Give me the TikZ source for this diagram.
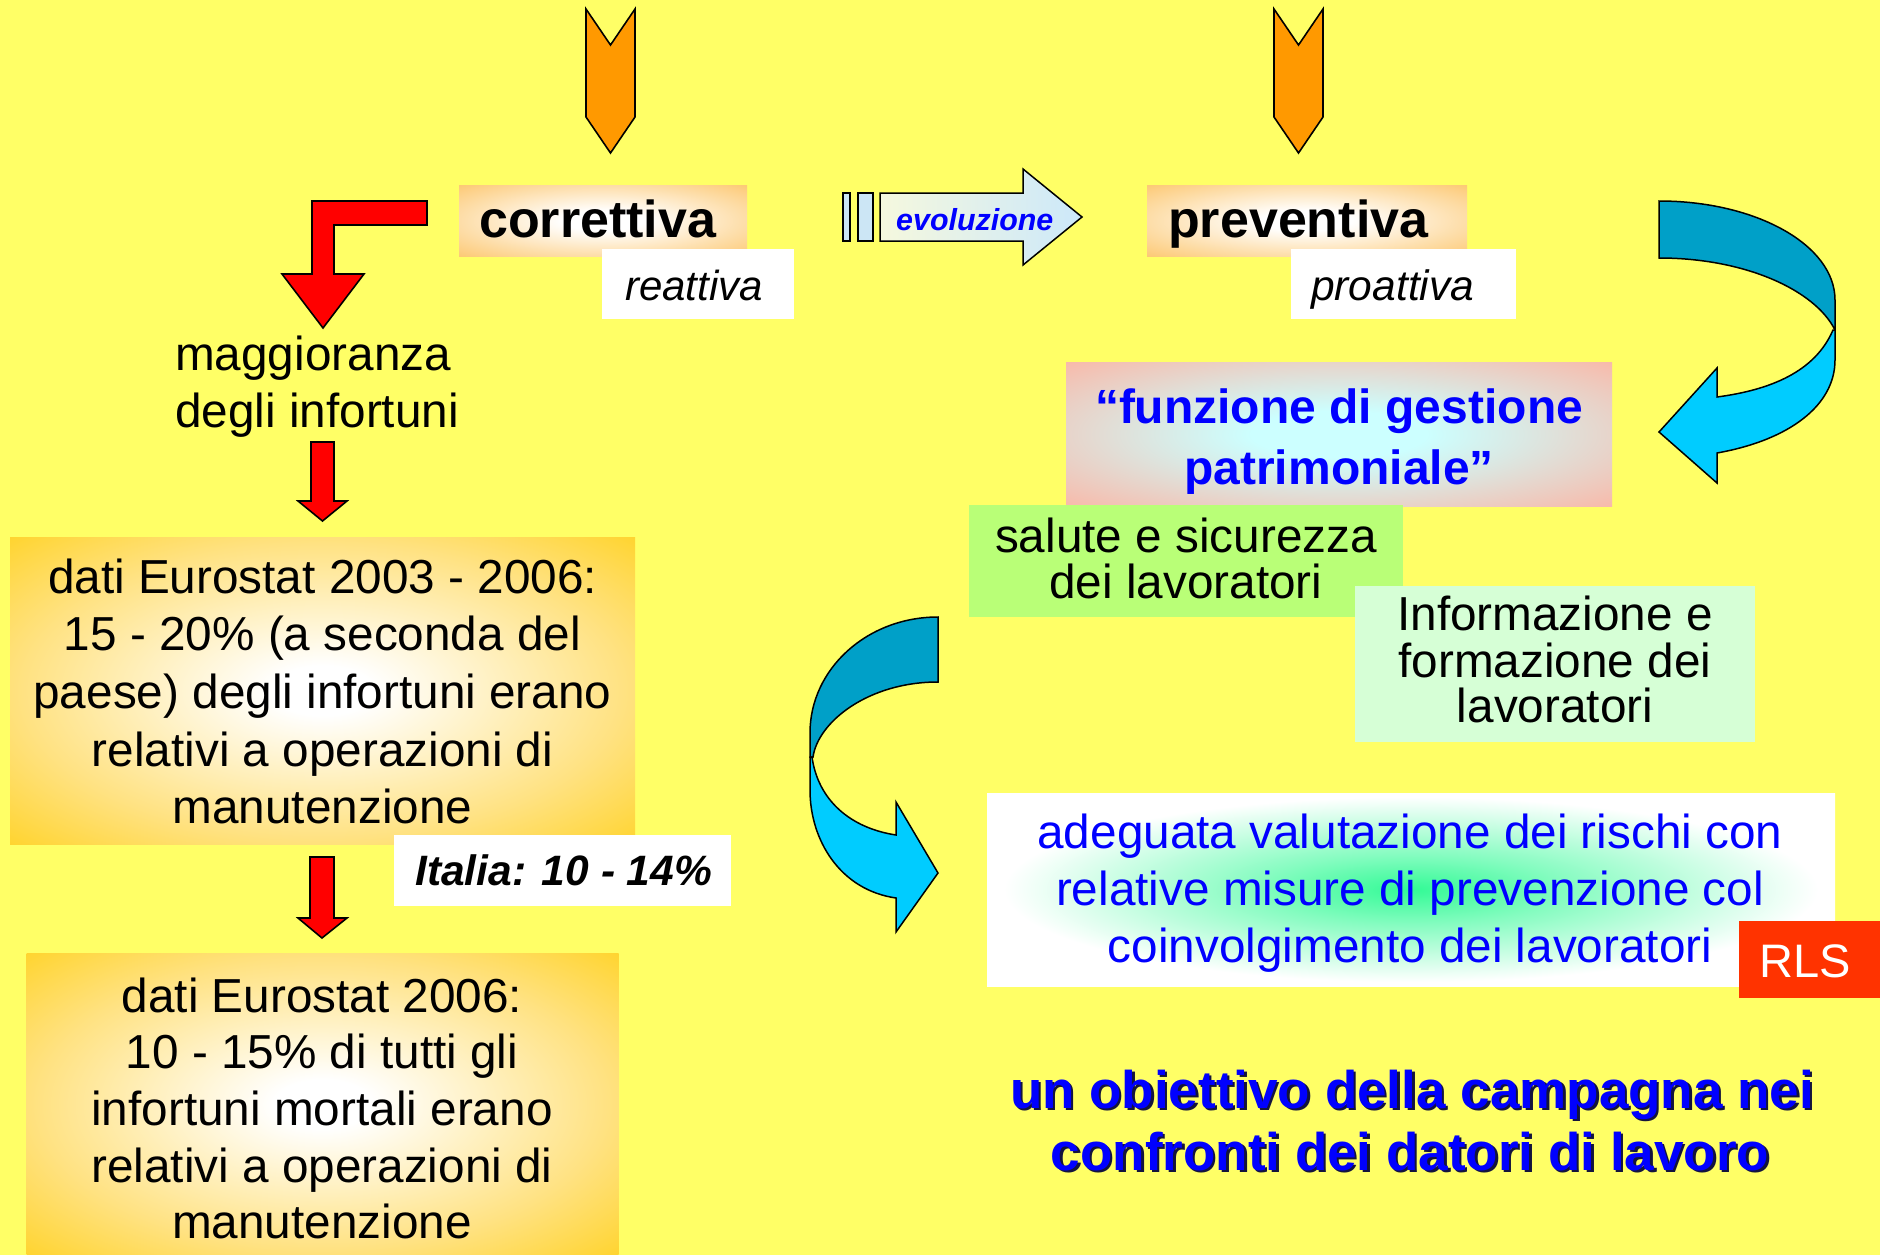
\documentclass[tikz,border=0pt]{standalone}
\usepackage{fontspec}
\setmainfont{Liberation Sans}
\definecolor{bg}{RGB}{255,255,102}
\definecolor{chev}{RGB}{255,153,0}
\definecolor{corr}{RGB}{252,196,104}
\definecolor{euro}{RGB}{255,204,0}
\definecolor{euromid}{RGB}{255,226,130}
\definecolor{salmon}{RGB}{249,184,168}
\definecolor{palecyan}{RGB}{204,255,255}
\definecolor{glowg}{RGB}{51,250,150}
\definecolor{darkcy}{RGB}{0,160,200}
\definecolor{lightcy}{RGB}{0,204,255}
\definecolor{salute}{RGB}{185,255,119}
\definecolor{info}{RGB}{214,255,214}
\definecolor{rls}{RGB}{255,51,0}
\definecolor{evoL}{RGB}{245,248,222}
\definecolor{evoR}{RGB}{204,232,250}
\definecolor{barblue}{RGB}{204,230,245}
\definecolor{txtblue}{RGB}{0,0,255}
\definecolor{shadowc}{RGB}{20,20,60}
\pgfdeclareradialshading{corrshade}{\pgfpoint{0bp}{0bp}}{color(0bp)=(white); color(7bp)=(white); color(38bp)=(corr); color(80bp)=(corr)}
\pgfdeclareradialshading{eurshade}{\pgfpoint{0bp}{0bp}}{color(0bp)=(white); color(4bp)=(white); color(24bp)=(euromid); color(42bp)=(euro); color(80bp)=(euro)}
\pgfdeclareradialshading{funzshade}{\pgfpoint{0bp}{0bp}}{color(0bp)=(palecyan); color(8bp)=(palecyan); color(36bp)=(salmon); color(80bp)=(salmon)}
\pgfdeclareradialshading{adegshade}{\pgfpoint{0bp}{0bp}}{color(0bp)=(glowg); color(9bp)=(glowg!60!white); color(24bp)=(white); color(80bp)=(white)}
\begin{document}
\begin{tikzpicture}[x=1pt,y=-1pt,
  box/.style={inner sep=0pt, outer sep=0pt, draw=none},
  txt/.style={inner sep=0pt, anchor=base, font=\fontsize{47.7}{57}\selectfont},
  bigb/.style={inner sep=0pt, anchor=base west, font=\fontsize{52}{60}\selectfont\bfseries},
  ital/.style={inner sep=0pt, anchor=base west, font=\fontsize{42}{50}\selectfont\itshape},
  funz/.style={inner sep=0pt, anchor=base, text=txtblue, font=\fontsize{48}{58}\selectfont\bfseries},
  bottomt/.style={inner sep=0pt, anchor=base, font=\fontsize{53}{62}\selectfont\bfseries},
  chevst/.style={fill=chev, draw=black, line width=1.6pt, line join=miter},
  redst/.style={fill=red, draw=black, line width=1.6pt, line join=miter},
  curvd/.style={fill=darkcy, draw=black, line width=1.5pt},
  curvl/.style={fill=lightcy, draw=black, line width=1.5pt},
  barst/.style={fill=barblue, draw=black, line width=1.5pt}]

\useasboundingbox (0,0) rectangle (1880,1255);
\clip (0,0) rectangle (1880,1255);
% background
\fill[bg] (0,0) rectangle (1880,1255);

% chevrons
\draw[chevst] (586,9) -- (610.5,45) -- (635,9) -- (635,117) -- (610.5,153) -- (586,117) -- cycle;
\draw[chevst] (1274,9) -- (1298.5,45) -- (1323,9) -- (1323,117) -- (1298.5,153) -- (1274,117) -- cycle;

% correttiva / reattiva
\node[box, shading=corrshade, minimum width=288pt, minimum height=71pt] (cbox) at (603,220.5) {};
\node[box, fill=white, minimum width=192pt, minimum height=70pt] (rbox) at (698,284) {};
\node[bigb] (tcorr) at (479,237) {correttiva};
\node[ital] (treat) at (625,300) {reattiva};

% preventiva / proattiva
\node[box, shading=corrshade, minimum width=320pt, minimum height=71pt] (pbox) at (1307,220.5) {};
\node[box, fill=white, minimum width=225pt, minimum height=70pt] (prbox) at (1403.5,284) {};
\node[bigb] (tprev) at (1168,237) {preventiva};
\node[ital, font=\fontsize{42.5}{50}\selectfont\itshape] (tproa) at (1311,300) {proattiva};

% evoluzione arrow
\draw[barst] (843,193) rectangle (850,241);
\draw[barst] (858,193) rectangle (873,241);
\draw[left color=evoL, right color=evoR, draw=black, line width=1.5pt, line join=miter]
  (880,193) -- (1023,193) -- (1023,169) -- (1082,217) -- (1023,265) -- (1023,241) -- (880,241) -- cycle;
\node[inner sep=0pt, anchor=base west, text=txtblue, font=\fontsize{30.4}{36}\selectfont\bfseries\itshape] (tevo) at (896,230) {evoluzione};

% red L arrow
\draw[redst] (312,201) -- (427,201) -- (427,225) -- (334,225) -- (334,274) -- (364,274) -- (323,328) -- (282,274) -- (312,274) -- cycle;

% maggioranza
\node[txt, anchor=base west] (tmag1) at (175,370) {maggioranza};
\node[txt, anchor=base west] (tmag2) at (175,427) {degli infortuni};

% red down arrow 1
\draw[redst] (311,442) -- (334,442) -- (334,501) -- (347,501) -- (322.5,521) -- (298,501) -- (311,501) -- cycle;

% Eurostat box 1
\node[box, shading=eurshade, minimum width=625pt, minimum height=307pt] (e1box) at (322.5,690.5) {};
\node[txt] (e1a) at (322.5,593) {dati Eurostat 2003 - 2006:};
\node[txt] (e1b) at (322.5,650) {15 - 20\% (a seconda del};
\node[txt] (e1c) at (322.5,708) {paese) degli infortuni erano};
\node[txt] (e1d) at (322.5,766) {relativi a operazioni di};
\node[txt] (e1e) at (322.5,823) {manutenzione};

% Italia
\node[box, fill=white, minimum width=337pt, minimum height=71pt] (itbox) at (562.5,870.5) {};
\node[inner sep=0pt, anchor=base west, font=\fontsize{42.5}{50}\selectfont\bfseries\itshape] (tital) at (415,885) {Italia: 10 - 14\%};

% red down arrow 2
\draw[redst] (310,857) -- (334,857) -- (334,918) -- (347,918) -- (322,938) -- (298,918) -- (310,918) -- cycle;

% Eurostat box 2
\node[box, shading=eurshade, minimum width=592pt, minimum height=302pt] (e2box) at (322.5,1104) {};
\node[txt] (e2a) at (322,1012) {dati Eurostat 2006:};
\node[txt] (e2b) at (322,1068) {10 - 15\% di tutti gli};
\node[txt] (e2c) at (322,1125) {infortuni mortali erano};
\node[txt] (e2d) at (322,1182) {relativi a operazioni di};
\node[txt] (e2e) at (322,1238) {manutenzione};

% right curved arrow
\draw[curvd] (1659,201) .. controls (1756,201) and (1835,245) .. (1835,300) -- (1835,330)
  .. controls (1815,290) and (1745,258) .. (1659,258) -- cycle;
\draw[curvl] (1833,330) .. controls (1815,372) and (1770,390) .. (1717,397) -- (1717,368) -- (1659,432)
  -- (1717,483) -- (1717,453) .. controls (1790,440) and (1835,405) .. (1835,360) -- (1835,330) -- cycle;

% funzione box
\node[box, shading=funzshade, minimum width=546pt, minimum height=144pt] (fbox) at (1339,434) {};
\node[funz] (tf1) at (1339,423) {“funzione di gestione};
\node[funz] (tf2) at (1339,484) {patrimoniale”};

% salute box
\node[box, fill=salute, minimum width=434pt, minimum height=112pt] (sbox) at (1186,561) {};
\node[txt] (ts1) at (1186,552) {salute e sicurezza};
\node[txt] (ts2) at (1186,598) {dei lavoratori};

% informazione box
\node[box, fill=info, minimum width=400pt, minimum height=156pt] (ibox) at (1555,664) {};
\node[txt] (ti1) at (1555,630) {Informazione e};
\node[txt] (ti2) at (1555,677) {formazione dei};
\node[txt] (ti3) at (1555,722) {lavoratori};

% left curved arrow
\draw[curvd] (938,617) .. controls (867,617) and (810,669) .. (810,733) -- (810,757) -- (813,757)
  .. controls (818,722) and (868,682) .. (938,682) -- cycle;
\draw[curvl] (812,757) .. controls (818,800) and (850,828) .. (896,835) -- (896,802) -- (938,873)
  -- (896,932) -- (896,898) .. controls (840,890) and (810,840) .. (810,790) -- (810,757) -- cycle;

% adeguata box
\node[box, shading=adegshade, minimum width=848pt, minimum height=193pt] (abox) at (1411,889.5) {};
\node[txt, text=txtblue] (ta1) at (1410,848) {adeguata valutazione dei rischi con};
\node[txt, text=txtblue] (ta2) at (1410,905) {relative misure di prevenzione col};
\node[txt, text=txtblue] (ta3) at (1410,962) {coinvolgimento dei lavoratori};

% RLS
\node[box, fill=rls, minimum width=141pt, minimum height=77pt] (rlsbox) at (1809.5,959.5) {};
\node[txt, anchor=base west, text=white, font=\fontsize{47}{56}\selectfont] (trls) at (1759,977) {RLS};

% bottom text with shadow
\node[bottomt, text=shadowc] (tb1s) at (1414.5,1110.5) {un obiettivo della campagna nei};
\node[bottomt, text=shadowc] (tb2s) at (1412.5,1172.5) {confronti dei datori di lavoro};
\node[bottomt, text=txtblue] (tb1) at (1412,1108) {un obiettivo della campagna nei};
\node[bottomt, text=txtblue] (tb2) at (1410,1170) {confronti dei datori di lavoro};

\end{tikzpicture}
\end{document}
